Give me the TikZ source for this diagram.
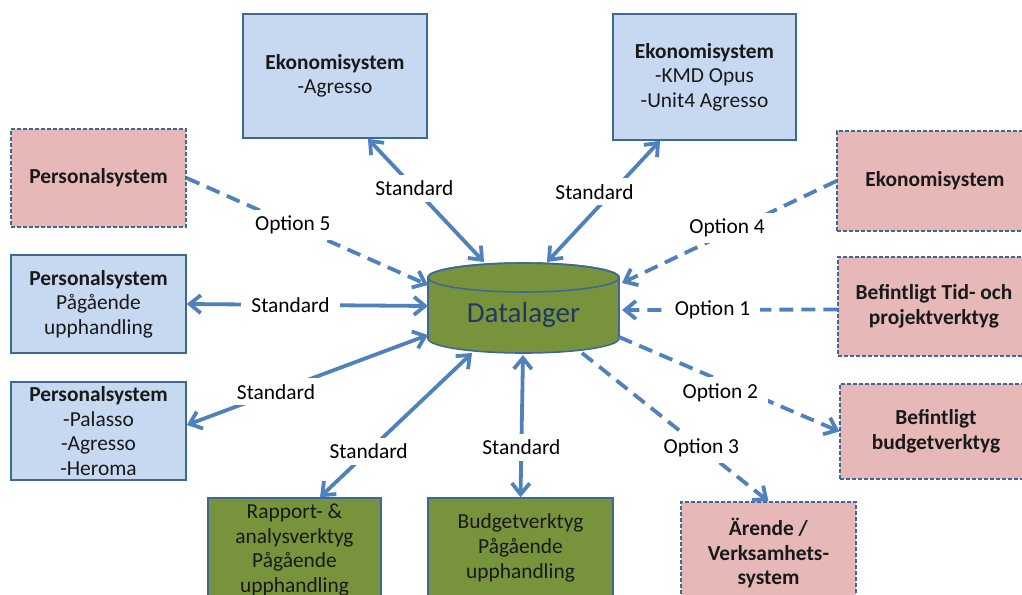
\documentclass[tikz,border=0pt]{standalone}
\usepackage{fontspec}
\setmainfont{Carlito}
\usetikzlibrary{calc, arrows.meta, backgrounds}

\definecolor{curblue}{HTML}{C6D9F1}
\definecolor{optred}{HTML}{E6B9B8}
\definecolor{newgreen}{HTML}{77933C}
\definecolor{boxline}{HTML}{3F6797}
\definecolor{linkblue}{HTML}{4F81BD}
\definecolor{dbtext}{HTML}{1F3864}

\newcommand{\sysfont}{\fontsize{10.7}{12.3}\selectfont}
\newcommand{\linkfont}{\fontsize{10.7}{12}\selectfont}

\tikzset{
	sysbox/.style={draw=boxline, line width=0.8pt, align=center, font=\sysfont, text=black!90, inner sep=1pt},
	curbox/.style={sysbox, fill=curblue},
	optbox/.style={sysbox, fill=optred, line width=0.6pt, dash pattern=on 2pt off 1pt},
	newbox/.style={sysbox, fill=newgreen},
	link/.style={draw=linkblue, line width=1.9pt},
	optlink/.style={link, dash pattern=on 7pt off 4pt},
	lbl/.style={fill=white, font=\linkfont, inner xsep=5pt, inner ysep=3pt}
}

\begin{document}
\begin{tikzpicture}[x=0.5pt, y=-0.5pt, >={Straight Barb[length=5.5pt, width=9pt]}]
		\useasboundingbox (0,0) rectangle (1022,594);
		\clip (0,0) rectangle (1022,594);

		% systems
		\node[curbox, minimum width=92pt, minimum height=62pt] (ekoAgr) at (335,76) {\textbf{Ekonomisystem}\\-Agresso};
		\node[curbox, minimum width=91.5pt, minimum height=63pt] (ekoKmd) at (704.5,77) {\textbf{Ekonomisystem}\\-KMD Opus\\-Unit4 Agresso};

		\node[optbox, minimum width=87.5pt, minimum height=49pt] (persRed) at (98.5,178) {\textbf{Personalsystem}};
		\node[curbox, minimum width=87.5pt, minimum height=49pt] (persPag) at (98.5,304) {\textbf{Personalsystem}\\Pågående\\upphandling};
		\node[curbox, minimum width=87.5pt, minimum height=49pt] (persPal) at (98.5,431) {\textbf{Personalsystem}\\-Palasso\\-Agresso\\-Heroma};

		\node[optbox, minimum width=98pt, minimum height=50pt] (ekoRed) at (935,181) {\textbf{Ekonomisystem}};
		\node[optbox, minimum width=96pt, minimum height=49.5pt] (befTid) at (934,306.5) {\textbf{Befintligt Tid- och}\\\textbf{projektverktyg}};
		\node[optbox, minimum width=96pt, minimum height=47.5pt] (befBudget) at (936,431.5) {\textbf{Befintligt}\\\textbf{budgetverktyg}};

		\node[newbox, minimum width=86.5pt, minimum height=52pt] (rapport) at (294.5,550) {Rapport- \&\\analysverktyg\\Pågående\\upphandling};
		\node[newbox, minimum width=92.5pt, minimum height=50pt] (budget) at (520.5,548) {Budgetverktyg\\Pågående\\upphandling};
		\node[optbox, minimum width=87.5pt, minimum height=51pt] (arende) at (768.5,553) {\textbf{Ärende /}\\\textbf{Verksamhets-}\\\textbf{system}};

		% data store
		\node[font=\fontsize{14.5}{16}\selectfont, text=dbtext] (cyl) at (523.5,315) {Datalager};
		\begin{scope}[on background layer]
			\path[fill=newgreen, draw=boxline, line width=0.8pt]
				($ (cyl.center) + (-95.5,-37.5) $) -- ($ (cyl.center) + (-95.5,23.5) $)
				arc[start angle=180, end angle=360, x radius=47.75pt, y radius=7.25pt]
				-- ($ (cyl.center) + (95.5,-37.5) $)
				arc[start angle=0, end angle=180, x radius=47.75pt, y radius=7.25pt] -- cycle;
			\draw[boxline, line width=0.8pt] ($ (cyl.center) + (0,-37.5) $) ellipse [x radius=47.75pt, y radius=7.25pt];
		\end{scope}

		% standard links
		\draw[link, <->] ($ (ekoAgr.south) + (33,0) $) -- node[lbl, pos=0.4] {Standard} ($ (cyl.center) + (-39.5,-53) $);
		\draw[link, <->] ($ (ekoKmd.south) + (-44.5,0) $) -- node[lbl, pos=0.42, xshift=-9pt] {Standard} ($ (cyl.center) + (23.5,-53) $);
		\draw[link, <->] (persPag.east) -- node[lbl, pos=0.43] {Standard} ($ (cyl.center) + (-95.5,-9) $);
		\draw[link, <->] ($ (persPal.east) + (0,-6) $) -- node[lbl, pos=0.37] {Standard} ($ (cyl.center) + (-95.5,20) $);
		\draw[link, <->] ($ (rapport.north) + (25.5,0) $) -- node[lbl, pos=0.32] {Standard} ($ (cyl.center) + (-51.5,38) $);
		\draw[link, <->] (budget.north) -- node[lbl, pos=0.35] {Standard} ($ (cyl.center) + (-0.5,40) $);

		% option links
		\draw[optlink, ->] (persRed.east) -- node[lbl, pos=0.44] {Option 5} ($ (cyl.center) + (-95.5,-30) $);
		\draw[optlink, ->] (ekoRed.west) -- node[lbl, pos=0.51, yshift=2.5pt] {Option 4} ($ (cyl.center) + (98.5,-32) $);
		\draw[optlink, ->] ($ (befTid.west) + (0,3) $) -- node[lbl, pos=0.58] {Option 1} ($ (cyl.center) + (98.5,-5) $);
		\draw[optlink, ->] ($ (cyl.center) + (95.5,22) $) -- node[lbl, pos=0.46, yshift=-6pt] {Option 2} (befBudget.west);
		\draw[optlink, ->] ($ (cyl.center) + (58.5,38) $) -- node[lbl, pos=0.64] {Option 3} (arende.north);
	\end{tikzpicture}
\end{document}
